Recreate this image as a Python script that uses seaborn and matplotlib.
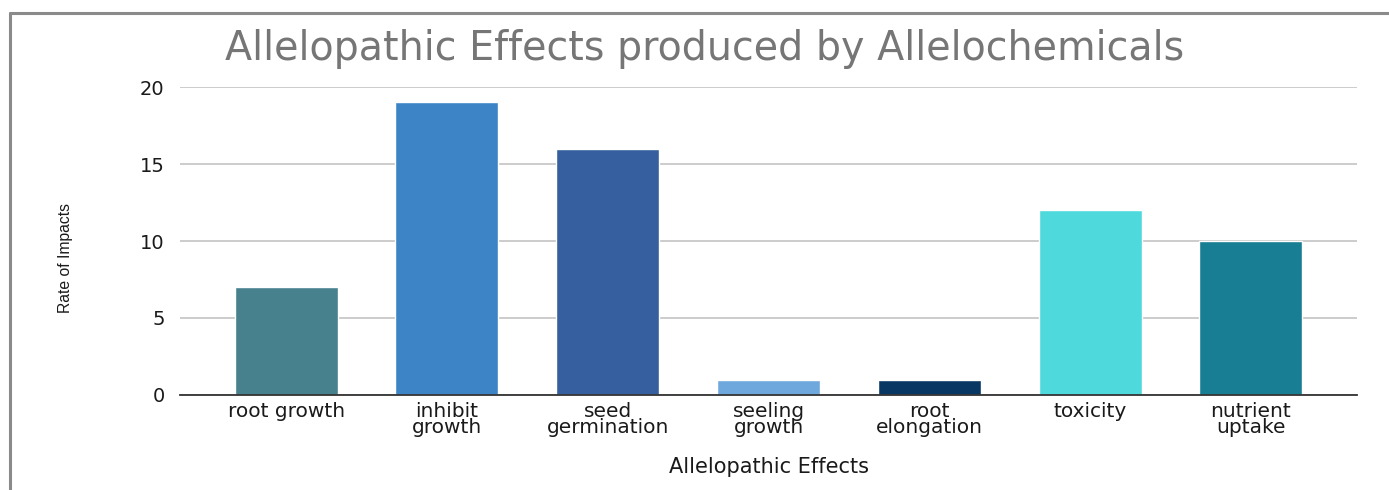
import matplotlib
matplotlib.use("Agg")
import matplotlib.pyplot as plt
from matplotlib.lines import Line2D
import seaborn as sns
import pandas as pd

categories = ["root growth", "inhibit\ngrowth", "seed\ngermination", "seeling\ngrowth",
              "root\nelongation", "toxicity", "nutrient\nuptake"]
rates = [7, 19, 16, 1, 1, 12, 10]
bar_colors = ["#46818d", "#3d84c6", "#365f9f", "#6fa8dc", "#083763", "#4ed9dc", "#187e93"]
y_ticks = [0, 5, 10, 15, 20]

sns.set_theme(style="white")
plt.rcParams["font.family"] = ["DejaVu Sans"]

df = pd.DataFrame({"effect": categories, "rate": rates})

fig = plt.figure(figsize=(13.89, 4.9), dpi=100)
ax = fig.add_axes([0.1296, 0.1939, 0.977 - 0.1296, 0.8224 - 0.1939])

sns.barplot(data=df, x="effect", y="rate", hue="effect", palette=bar_colors,
            legend=False, width=0.64, saturation=1, ax=ax, zorder=3)

ax.set_ylim(0, 20)
ax.set_xlim(-0.66, 6.66)
ax.set_yticks(y_ticks)
ax.yaxis.grid(True, color="#c4c4c4", linewidth=1.2, zorder=0)
ax.xaxis.grid(False)
for side in ["top", "right", "left"]:
    ax.spines[side].set_visible(False)
ax.spines["bottom"].set_color("#333333")
ax.spines["bottom"].set_linewidth(1.3)
ax.spines["bottom"].set_zorder(4)
ax.tick_params(axis="y", length=0, pad=11, labelsize=14, labelcolor="#1a1a1a")
ax.tick_params(axis="x", length=0, pad=5, labelsize=14.5, labelcolor="#1a1a1a")
for lbl in ax.get_xticklabels():
    lbl.set_linespacing(0.8)

ax.set_xlabel("Allelopathic Effects", fontsize=15, color="#1a1a1a")
ax.xaxis.set_label_coords(0.5, -0.2)
ax.set_ylabel("Rate of Impacts", fontsize=11.3, color="#1a1a1a",
              family=["Liberation Sans", "DejaVu Sans"])
ax.yaxis.label.set_va("center")
ax.yaxis.label.set_ha("center")
ax.yaxis.set_label_coords(-0.097, 0.445)

fig.text(0.507, 0.8776, "Allelopathic Effects produced by Allelochemicals",
         ha="center", va="baseline", fontsize=28.5, color="#767676")

# outer frame lines
fig.add_artist(Line2D([0.0075, 0.0075], [0.0, 0.973], color="#8a8a8a", linewidth=2.2))
fig.add_artist(Line2D([0.0075, 1.0], [0.973, 0.973], color="#8a8a8a", linewidth=2.2))

fig.savefig("out.png", dpi=100, facecolor="white")
